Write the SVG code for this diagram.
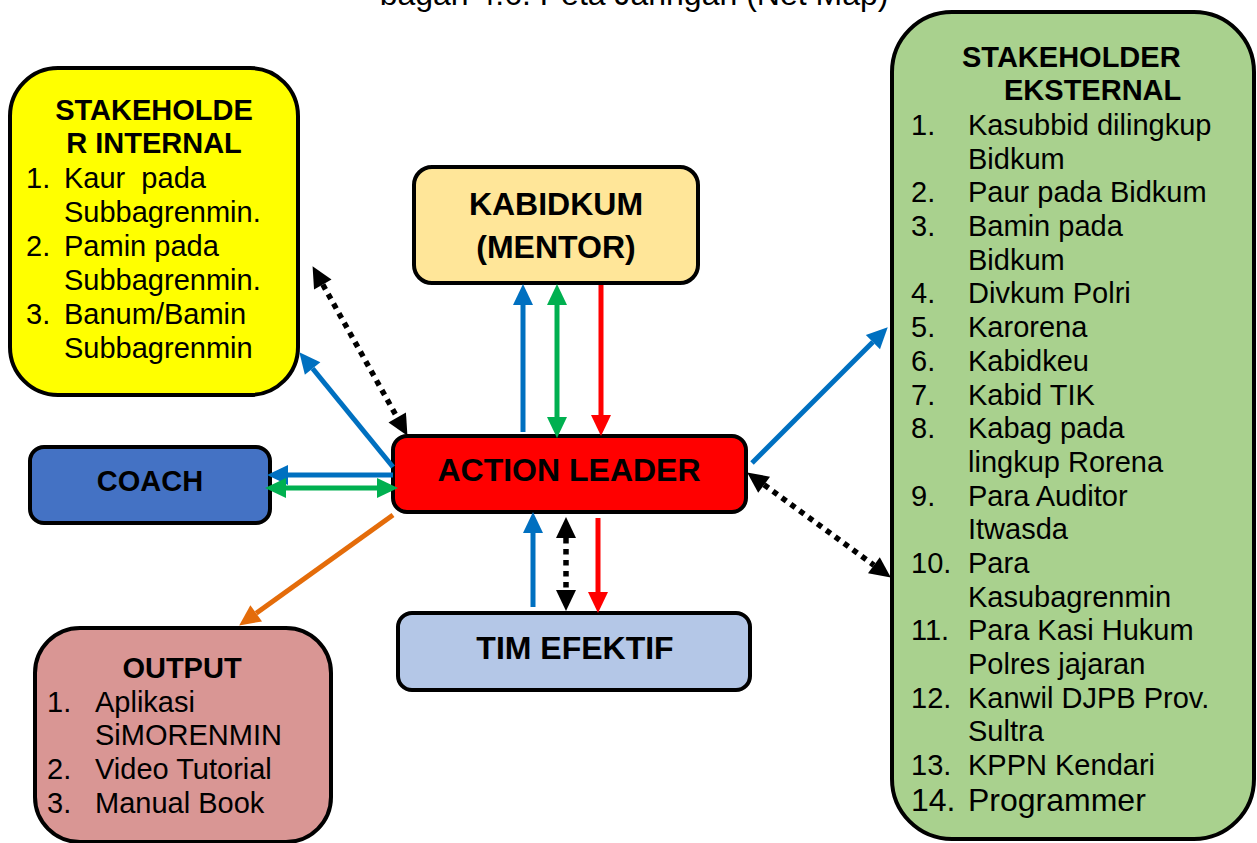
<svg xmlns="http://www.w3.org/2000/svg" width="1257" height="843" viewBox="0 0 1257 843">
<style>
  .box { stroke: #000; stroke-width: 4; }
  text { font-family: "Liberation Sans", Arial, sans-serif; fill: #000; }
  .h { font-weight: bold; font-size: 29px; }
  .hc { font-weight: bold; font-size: 32px; text-anchor: middle; }
  .li { font-size: 29px; white-space: pre; }
  .lb { font-size: 32px; white-space: pre; }
  .ln { fill: none; stroke-width: 5; }
  .dot { fill: none; stroke: #000; stroke-width: 5.5; stroke-dasharray: 5.5 5.5; }
</style>
<defs>
  <marker id="ab" markerUnits="userSpaceOnUse" markerWidth="22" markerHeight="20" refX="0" refY="10" orient="auto-start-reverse" overflow="visible"><path d="M0,0 L21,10 L0,20 z" fill="#0070C0"/></marker>
  <marker id="ag" markerUnits="userSpaceOnUse" markerWidth="22" markerHeight="20" refX="0" refY="10" orient="auto-start-reverse" overflow="visible"><path d="M0,0 L21,10 L0,20 z" fill="#00B050"/></marker>
  <marker id="ar" markerUnits="userSpaceOnUse" markerWidth="22" markerHeight="20" refX="0" refY="10" orient="auto-start-reverse" overflow="visible"><path d="M0,0 L21,10 L0,20 z" fill="#FF0000"/></marker>
  <marker id="ak" markerUnits="userSpaceOnUse" markerWidth="22" markerHeight="20" refX="0" refY="10" orient="auto-start-reverse" overflow="visible"><path d="M0,0 L21,10 L0,20 z" fill="#000"/></marker>
  <marker id="ao" markerUnits="userSpaceOnUse" markerWidth="22" markerHeight="20" refX="0" refY="10" orient="auto-start-reverse" overflow="visible"><path d="M0,0 L21,10 L0,20 z" fill="#E46C0A"/></marker>
</defs>

<text x="634" y="5" font-size="32" text-anchor="middle">bagan 4.6. Peta Jaringan (Net Map)</text>

<g id="stakeholder-internal">
  <rect class="box" x="10" y="68" width="288" height="327" rx="48" fill="#FFFF00"/>
  <text class="h" x="154" y="120" text-anchor="middle">STAKEHOLDE</text>
  <text class="h" x="154" y="153" text-anchor="middle">R INTERNAL</text>
  <text class="li" x="26" y="188">1.</text><text class="li" x="64" y="188">Kaur  pada</text>
  <text class="li" x="64" y="222">Subbagrenmin.</text>
  <text class="li" x="26" y="256">2.</text><text class="li" x="64" y="256">Pamin pada</text>
  <text class="li" x="64" y="290">Subbagrenmin.</text>
  <text class="li" x="26" y="324">3.</text><text class="li" x="64" y="324">Banum/Bamin</text>
  <text class="li" x="64" y="358">Subbagrenmin</text>
</g>

<g id="kabidkum">
  <rect class="box" x="414" y="167" width="284" height="116" rx="18" fill="#FFE699"/>
  <text class="hc" x="556" y="215">KABIDKUM</text>
  <text class="hc" x="556" y="258">(MENTOR)</text>
</g>

<g id="action-leader">
  <rect class="box" x="393" y="436" width="353" height="76" rx="14" fill="#FF0000"/>
  <text class="hc" x="569" y="481">ACTION LEADER</text>
</g>

<g id="coach">
  <rect class="box" x="30" y="447" width="240" height="76" rx="14" fill="#4472C4"/>
  <text class="h" x="150" y="491" text-anchor="middle">COACH</text>
</g>

<g id="tim-efektif">
  <rect class="box" x="398" y="613" width="352" height="77" rx="14" fill="#B4C7E7"/>
  <text class="hc" x="575" y="659">TIM EFEKTIF</text>
</g>

<g id="output">
  <rect class="box" x="35" y="628" width="296" height="214" rx="45" fill="#D99694"/>
  <text class="h" x="182" y="678" text-anchor="middle">OUTPUT</text>
  <text class="li" x="47" y="712">1.</text><text class="li" x="95" y="712">Aplikasi</text>
  <text class="li" x="95" y="745">SiMORENMIN</text>
  <text class="li" x="47" y="779">2.</text><text class="li" x="95" y="779">Video Tutorial</text>
  <text class="li" x="47" y="813">3.</text><text class="li" x="95" y="813">Manual Book</text>
</g>

<g id="stakeholder-eksternal">
  <rect class="box" x="892" y="12" width="362" height="827" rx="60" fill="#A9D18E"/>
  <text class="h" x="962" y="67">STAKEHOLDER</text>
  <text class="h" x="1004" y="100">EKSTERNAL</text>
  <text class="li" x="911" y="135">1.</text><text class="li" x="968" y="135">Kasubbid dilingkup</text>
  <text class="li" x="968" y="169">Bidkum</text>
  <text class="li" x="911" y="202">2.</text><text class="li" x="968" y="202">Paur pada Bidkum</text>
  <text class="li" x="911" y="236">3.</text><text class="li" x="968" y="236">Bamin pada</text>
  <text class="li" x="968" y="270">Bidkum</text>
  <text class="li" x="911" y="303">4.</text><text class="li" x="968" y="303">Divkum Polri</text>
  <text class="li" x="911" y="337">5.</text><text class="li" x="968" y="337">Karorena</text>
  <text class="li" x="911" y="371">6.</text><text class="li" x="968" y="371">Kabidkeu</text>
  <text class="li" x="911" y="405">7.</text><text class="li" x="968" y="405">Kabid TIK</text>
  <text class="li" x="911" y="438">8.</text><text class="li" x="968" y="438">Kabag pada</text>
  <text class="li" x="968" y="472">lingkup Rorena</text>
  <text class="li" x="911" y="506">9.</text><text class="li" x="968" y="506">Para Auditor</text>
  <text class="li" x="968" y="539">Itwasda</text>
  <text class="li" x="911" y="573">10.</text><text class="li" x="968" y="573">Para</text>
  <text class="li" x="968" y="607">Kasubagrenmin</text>
  <text class="li" x="911" y="640">11.</text><text class="li" x="968" y="640">Para Kasi Hukum</text>
  <text class="li" x="968" y="674">Polres jajaran</text>
  <text class="li" x="911" y="708">12.</text><text class="li" x="968" y="708">Kanwil DJPB Prov.</text>
  <text class="li" x="968" y="741">Sultra</text>
  <text class="li" x="911" y="775">13.</text><text class="li" x="968" y="775">KPPN Kendari</text>
  <text class="lb" x="911" y="811">14.</text><text class="lb" x="968" y="811">Programmer</text>
</g>

<g id="connectors">
  <line class="ln" stroke="#0070C0" x1="393" y1="467" x2="312.6" y2="368.5" marker-end="url(#ab)"/>
  <line class="dot" x1="322.8" y1="284.5" x2="397.2" y2="417.5" marker-start="url(#ak)" marker-end="url(#ak)"/>
  <line class="ln" stroke="#0070C0" x1="523" y1="432" x2="523" y2="305" marker-end="url(#ab)"/>
  <line class="ln" stroke="#00B050" x1="557" y1="305" x2="557" y2="417" marker-start="url(#ag)" marker-end="url(#ag)"/>
  <line class="ln" stroke="#FF0000" x1="601" y1="285" x2="601" y2="415" marker-end="url(#ar)"/>
  <line class="ln" stroke="#0070C0" x1="393" y1="475" x2="288" y2="475" marker-end="url(#ab)"/>
  <line class="ln" stroke="#00B050" x1="286" y1="488" x2="377" y2="488" marker-start="url(#ag)" marker-end="url(#ag)"/>
  <line class="ln" stroke="#0070C0" x1="533" y1="607" x2="533" y2="533" marker-end="url(#ab)"/>
  <line class="dot" x1="566" y1="538" x2="566" y2="590" marker-start="url(#ak)" marker-end="url(#ak)"/>
  <line class="ln" stroke="#FF0000" x1="598" y1="518" x2="598" y2="592" marker-end="url(#ar)"/>
  <line class="ln" stroke="#0070C0" x1="752" y1="463" x2="872.9" y2="342.1" marker-end="url(#ab)"/>
  <line class="dot" x1="764.1" y1="484.8" x2="873.9" y2="565.2" marker-start="url(#ak)" marker-end="url(#ak)"/>
  <line class="ln" stroke="#E46C0A" x1="393" y1="515" x2="256.2" y2="613.3" marker-end="url(#ao)"/>
</g>
</svg>
